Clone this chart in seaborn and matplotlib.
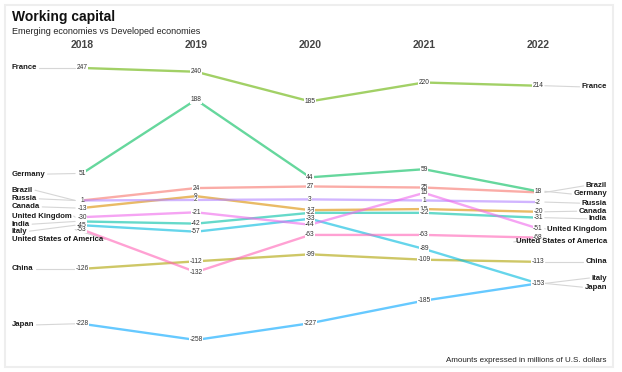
import matplotlib
matplotlib.use("Agg")
import matplotlib.pyplot as plt
import seaborn as sns
import pandas as pd
from matplotlib.patches import Rectangle

# Data: working capital (millions of U.S. dollars)
years = ["2018", "2019", "2020", "2021", "2022"]
countries = ["Brazil", "Canada", "China", "France", "Germany", "India",
             "Italy", "Japan", "Russia", "United Kingdom", "United States of America"]
brazil = [1, 24, 27, 25, 16]
canada = [-13, 9, -17, -15, -20]
china = [-126, -112, -99, -109, -113]
france = [247, 240, 185, 220, 214]
germany = [51, 188, 44, 59, 18]
india = [-38, -42, -22, -22, -31]
italy = [-45, -57, -33, -89, -153]
japan = [-228, -258, -227, -185, -153]
russia = [1, 2, 3, 1, -2]
uk = [-30, -21, -44, 15, -51]
usa = [-53, -132, -63, -63, -68]
series = [brazil, canada, china, france, germany, india, italy, japan, russia, uk, usa]

colors = ["#F8766D", "#DB8E00", "#AEA200", "#64B200", "#00BD5C", "#00C1A7",
          "#00BADE", "#00A6FF", "#B385FF", "#EF67EB", "#FF63B6"]

# Vertical placement of the country names (repelled so they don't overlap)
left_name_y = {"France": 247, "Germany": 50, "Brazil": 20, "Russia": 4, "Canada": -11,
               "United Kingdom": -28, "India": -43, "Italy": -56,
               "United States of America": -71, "China": -126, "Japan": -230}
right_name_y = {"France": 212, "Brazil": 28, "Germany": 13, "Russia": -4, "Canada": -19,
                "India": -33, "United Kingdom": -52, "United States of America": -76,
                "China": -113, "Italy": -143, "Japan": -160}

rows = []
for c, vals in zip(countries, series):
    for i, v in enumerate(vals):
        rows.append({"country": c, "x": i, "value": v})
df = pd.DataFrame(rows)

sns.set_theme(style="white")
plt.rcParams["font.family"] = ["Liberation Sans", "DejaVu Sans"]

fig = plt.figure(figsize=(6.22, 3.72), dpi=100)
ax = fig.add_axes([0, 0, 1, 1])
ax.set_xlim(-0.719, 4.737)
ax.set_ylim(-317.5, 373.2)
ax.axis("off")

palette = dict(zip(countries, colors))
sns.lineplot(data=df, x="x", y="value", hue="country", palette=palette,
             linewidth=1.7, alpha=0.6, legend=False, ax=ax, zorder=2)

# Value labels on each point
for c, vals in zip(countries, series):
    for i, v in enumerate(vals):
        ax.text(i, v, str(v), ha="center", va="center", fontsize=4.8, color="#333333",
                zorder=4, bbox=dict(boxstyle="square,pad=0.05", fc="white", ec="none"))

fig.canvas.draw()
renderer = fig.canvas.get_renderer()
inv = ax.transData.inverted()

name_kw = dict(fontsize=5.6, fontweight="bold", color="#1a1a1a", va="center", zorder=5)
for c, vals in zip(countries, series):
    # left side
    ly = left_name_y[c]
    t = ax.text(-0.614, ly, c, ha="left", **name_kw)
    bb = t.get_window_extent(renderer)
    x_end = inv.transform((bb.x1 + 2, 0))[0]
    ax.plot([x_end, -0.06], [ly, vals[0]], color="#d6d6d6", lw=0.8, zorder=1)
    # right side
    ry = right_name_y[c]
    t = ax.text(4.605, ry, c, ha="right", **name_kw)
    bb = t.get_window_extent(renderer)
    x_start = inv.transform((bb.x0 - 2, 0))[0]
    ax.plot([4.06, x_start], [vals[-1], ry], color="#d6d6d6", lw=0.8, zorder=1)

# Year headers
for i, y in enumerate(years):
    fig.text((82 + 114 * i) / 622, 1 - 45 / 372, y, ha="center", va="center",
             fontsize=7.5, fontweight="bold", color="#444444")

fig.text(12 / 622, 1 - 17 / 372, "Working capital", ha="left", va="center",
         fontsize=10, fontweight="bold", color="#111111")
fig.text(12 / 622, 1 - 32 / 372, "Emerging economies vs Developed economies", ha="left",
         va="center", fontsize=6.5, color="#222222")
fig.text(607 / 622, 1 - 361 / 372, "Amounts expressed in millions of U.S. dollars",
         ha="right", va="center", fontsize=5.8, color="#222222")

# Light frame around the panel
fig.patches.append(Rectangle((5 / 622, 5 / 372), 608 / 622, 362 / 372,
                             transform=fig.transFigure, fill=False,
                             ec="#eeeeee", lw=1.5))

fig.savefig("out.png", dpi=100, facecolor="white")
